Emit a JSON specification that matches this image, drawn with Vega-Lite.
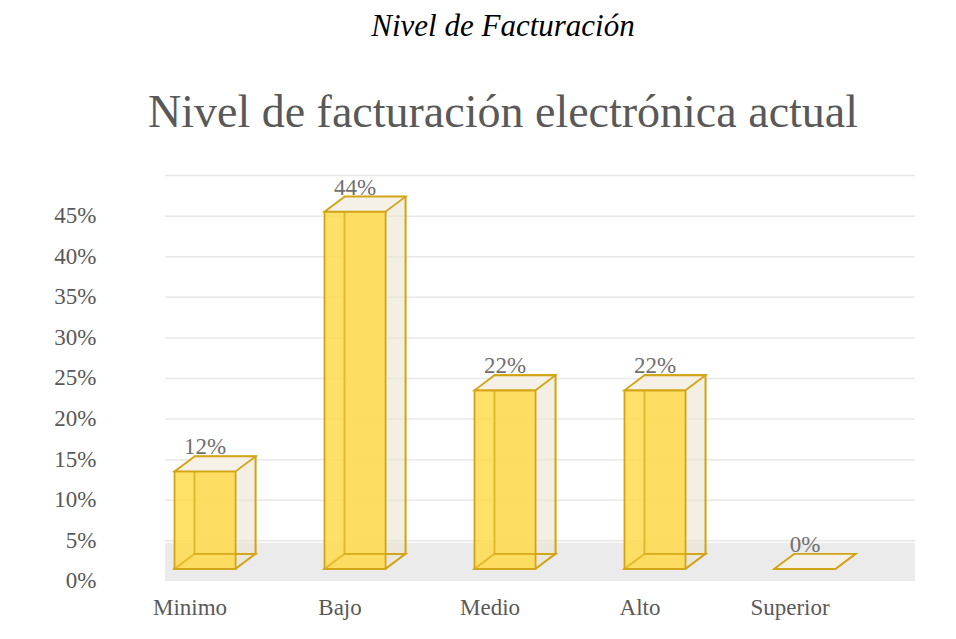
{
  "$schema": "https://vega.github.io/schema/vega-lite/v6.json",
  "width": 750,
  "height": 418,
  "autosize": "none",
  "padding": {"left": 165, "top": 163, "right": 41, "bottom": 58},
  "background": "white",
  "config": {"view": {"stroke": null}, "font": "Liberation Serif"},
  "title": {
    "text": "Nivel de Facturación",
    "subtitle": "Nivel de facturación electrónica actual",
    "font": "Liberation Serif",
    "fontStyle": "italic",
    "fontWeight": "normal",
    "fontSize": 31,
    "color": "black",
    "subtitleFont": "Liberation Serif",
    "subtitleFontSize": 46,
    "subtitleColor": "#595959",
    "subtitlePadding": 48,
    "anchor": "middle",
    "dx": -37,
    "offset": 26
  },
  "datasets": {
    "bars": [
      {"nivel": "Minimo", "pct": 0.12},
      {"nivel": "Bajo", "pct": 0.44},
      {"nivel": "Medio", "pct": 0.22},
      {"nivel": "Alto", "pct": 0.22},
      {"nivel": "Superior", "pct": 0.0}
    ],
    "ticks": [
      {"t": 0}, {"t": 0.05}, {"t": 0.1}, {"t": 0.15}, {"t": 0.2},
      {"t": 0.25}, {"t": 0.3}, {"t": 0.35}, {"t": 0.4}, {"t": 0.45}
    ]
  },
  "layer": [
    {
      "data": {"values": [{}]},
      "mark": {"type": "rect", "color": "#ebebeb"},
      "encoding": {
        "y": {"datum": -0.015, "type": "quantitative", "scale": {"domain": [-0.015, 0.5], "nice": false, "zero": false},
          "axis": {"title": null, "domain": false, "ticks": false, "grid": false, "values": [0, 0.05, 0.1, 0.15, 0.2, 0.25, 0.3, 0.35, 0.4, 0.45], "format": ".0%", "labelPadding": 69, "labelOffset": 12, "labelFontSize": 23, "labelColor": "#595959", "labelFont": "Liberation Serif"}},
        "y2": {"datum": 0.032}
      }
    },
    {
      "data": {"name": "ticks"},
      "mark": {"type": "rule", "color": "#e8e8e8", "strokeWidth": 1.5, "yOffset": -28},
      "encoding": {
        "y": {"field": "t", "type": "quantitative"}
      }
    },
    {
      "data": {"name": "bars"},
      "encoding": {
        "x": {"field": "nivel", "type": "nominal", "sort": null,
          "scale": {"paddingInner": 0.593, "paddingOuter": 0.2967, "align": 0.107},
          "axis": {"title": null, "domain": false, "ticks": false, "labelAngle": 0, "labelPadding": 15, "labelOffset": -15, "labelFontSize": 23, "labelColor": "#595959", "labelFont": "Liberation Serif"}}
      },
      "layer": [
        {
          "mark": {"type": "bar", "fill": "#ebe4cf", "fillOpacity": 0.6, "stroke": "#d4a417", "strokeWidth": 1.8, "xOffset": 20, "yOffset": -15},
          "encoding": {
            "y": {"field": "pct", "type": "quantitative"}
          }
        },
        {
          "mark": {"type": "point", "shape": "M-1,0.185L0.506,0.185L1,-0.185L-0.506,-0.185Z", "size": 6561, "filled": true, "fill": "#ebe4cf", "fillOpacity": 0.6, "stroke": "#d4a417", "strokeWidth": 1.8, "opacity": 1, "xOffset": 10, "yOffset": -7.5},
          "encoding": {
            "y": {"datum": 0, "type": "quantitative"}
          }
        },
        {
          "mark": {"type": "bar", "fill": "#ffdb45", "fillOpacity": 0.82, "stroke": "#d4a417", "strokeWidth": 1.8},
          "encoding": {
            "y": {"field": "pct", "type": "quantitative"}
          }
        },
        {
          "mark": {"type": "bar", "fillOpacity": 0, "stroke": "#d4a417", "strokeOpacity": 0.55, "strokeWidth": 1.8, "xOffset": 20, "yOffset": -15},
          "encoding": {
            "y": {"field": "pct", "type": "quantitative"}
          }
        },
        {
          "mark": {"type": "point", "shape": "M-1,0.185L0.506,0.185L1,-0.185L-0.506,-0.185Z", "size": 6561, "filled": false, "fillOpacity": 0, "stroke": "#d4a417", "strokeOpacity": 0.55, "strokeWidth": 1.8, "opacity": 1, "xOffset": 10, "yOffset": -7.5},
          "encoding": {
            "y": {"datum": 0, "type": "quantitative"}
          }
        },
        {
          "mark": {"type": "point", "shape": "M-1,0.185L0.506,0.185L1,-0.185L-0.506,-0.185Z", "size": 6561, "filled": true, "fill": "#f5f1e6", "stroke": "#d4a417", "strokeWidth": 1.8, "opacity": 1, "xOffset": 10, "yOffset": -7.5},
          "encoding": {
            "y": {"field": "pct", "type": "quantitative"}
          }
        },
        {
          "mark": {"type": "text", "fontSize": 23, "color": "#707070", "baseline": "alphabetic", "dy": -17, "font": "Liberation Serif"},
          "encoding": {
            "y": {"field": "pct", "type": "quantitative"},
            "text": {"field": "pct", "type": "quantitative", "format": ".0%"}
          }
        }
      ]
    }
  ]
}
